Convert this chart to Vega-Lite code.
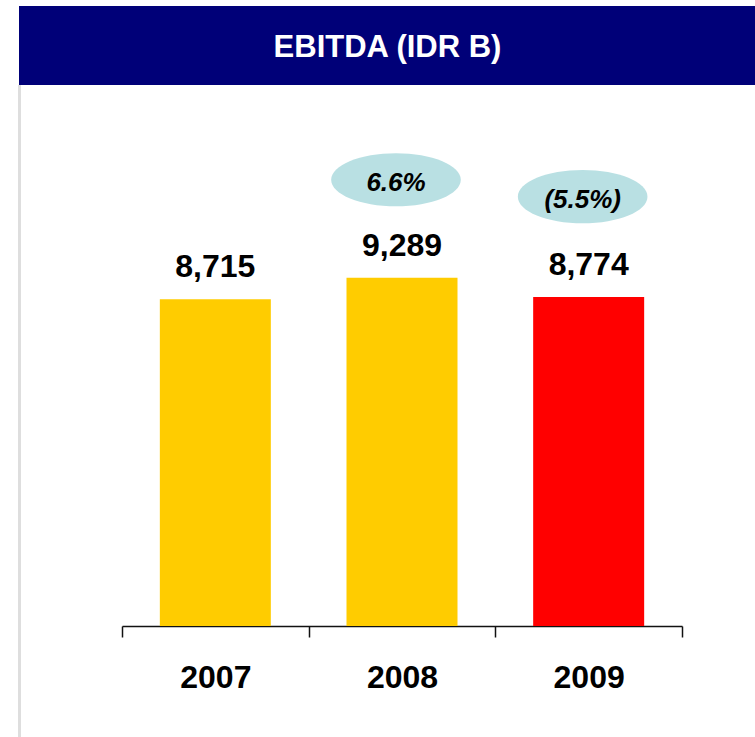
{
  "$schema": "https://vega.github.io/schema/vega-lite/v6.json",
  "background": "white",
  "padding": {"left": 18, "top": 6, "right": 0, "bottom": 0},
  "config": {"view": {"stroke": null}, "font": "Liberation Sans"},
  "datasets": {
    "ebitda": [
      {"year": "2007", "value": 8715, "label": "8,715", "color": "yellow", "pct": null, "pct_y": null},
      {"year": "2008", "value": 9289, "label": "9,289", "color": "yellow", "pct": "6.6%", "pct_y": 11900},
      {"year": "2009", "value": 8774, "label": "8,774", "color": "red", "pct": "(5.5%)", "pct_y": 11450}
    ]
  },
  "vconcat": [
    {
      "width": 737,
      "height": 79,
      "view": {"fill": "#000078", "stroke": null},
      "data": {"values": [{"title": "EBITDA (IDR B)"}]},
      "mark": {"type": "text", "color": "white", "fontWeight": "bold", "fontSize": 31, "baseline": "alphabetic", "dy": 11.5, "align": "center"},
      "encoding": {"text": {"field": "title"}}
    },
    {
      "spacing": 100,
      "hconcat": [
        {
          "width": 1,
          "height": 653,
          "view": {"stroke": "#dedede", "strokeWidth": 2},
          "data": {"values": [{"t": ""}]},
          "mark": {"type": "text"},
          "encoding": {"text": {"field": "t"}}
        },
        {
          "width": 560,
          "height": 540,
          "view": {"stroke": null},
          "data": {"name": "ebitda"},
          "encoding": {
            "x": {
              "field": "year",
              "type": "ordinal",
              "scale": {"paddingInner": 0, "paddingOuter": 0},
              "axis": {
                "title": null,
                "labelAngle": 0,
                "tickBand": "extent",
                "labelFont": "Liberation Sans",
                "labelFontSize": 32,
                "labelFontWeight": "bold",
                "labelColor": "black",
                "labelBaseline": "alphabetic",
                "labelPadding": 50,
                "tickSize": 11,
                "tickColor": "#111",
                "tickWidth": 1.5,
                "domainColor": "#111",
                "domainWidth": 1.5,
                "grid": false
              }
            }
          },
          "layer": [
            {
              "mark": {"type": "bar", "width": 111},
              "encoding": {
                "y": {"field": "value", "type": "quantitative", "scale": {"domain": [0, 14400], "nice": false, "zero": true}, "axis": null},
                "color": {"field": "color", "type": "nominal", "scale": {"domain": ["yellow", "red"], "range": ["#FFCC00", "#FF0000"]}, "legend": null}
              }
            },
            {
              "mark": {"type": "text", "fontSize": 32, "fontWeight": "bold", "color": "black", "baseline": "alphabetic", "dy": -22},
              "encoding": {
                "y": {"field": "value", "type": "quantitative"},
                "text": {"field": "label"}
              }
            },
            {
              "transform": [{"filter": "datum.pct != null"}],
              "mark": {"type": "point", "filled": true, "opacity": 1, "color": "#B9E0E3", "shape": "M-1.093,0A1,0.41,0,1,0,0.907,0A1,0.41,0,1,0,-1.093,0Z", "size": 16800},
              "encoding": {
                "y": {"field": "pct_y", "type": "quantitative"}
              }
            },
            {
              "transform": [{"filter": "datum.pct != null"}],
              "mark": {"type": "text", "fontSize": 26, "fontWeight": "bold", "fontStyle": "italic", "color": "black", "baseline": "alphabetic", "dy": 11, "dx": -6},
              "encoding": {
                "y": {"field": "pct_y", "type": "quantitative"},
                "text": {"field": "pct"}
              }
            }
          ]
        }
      ]
    }
  ],
  "spacing": 0
}
